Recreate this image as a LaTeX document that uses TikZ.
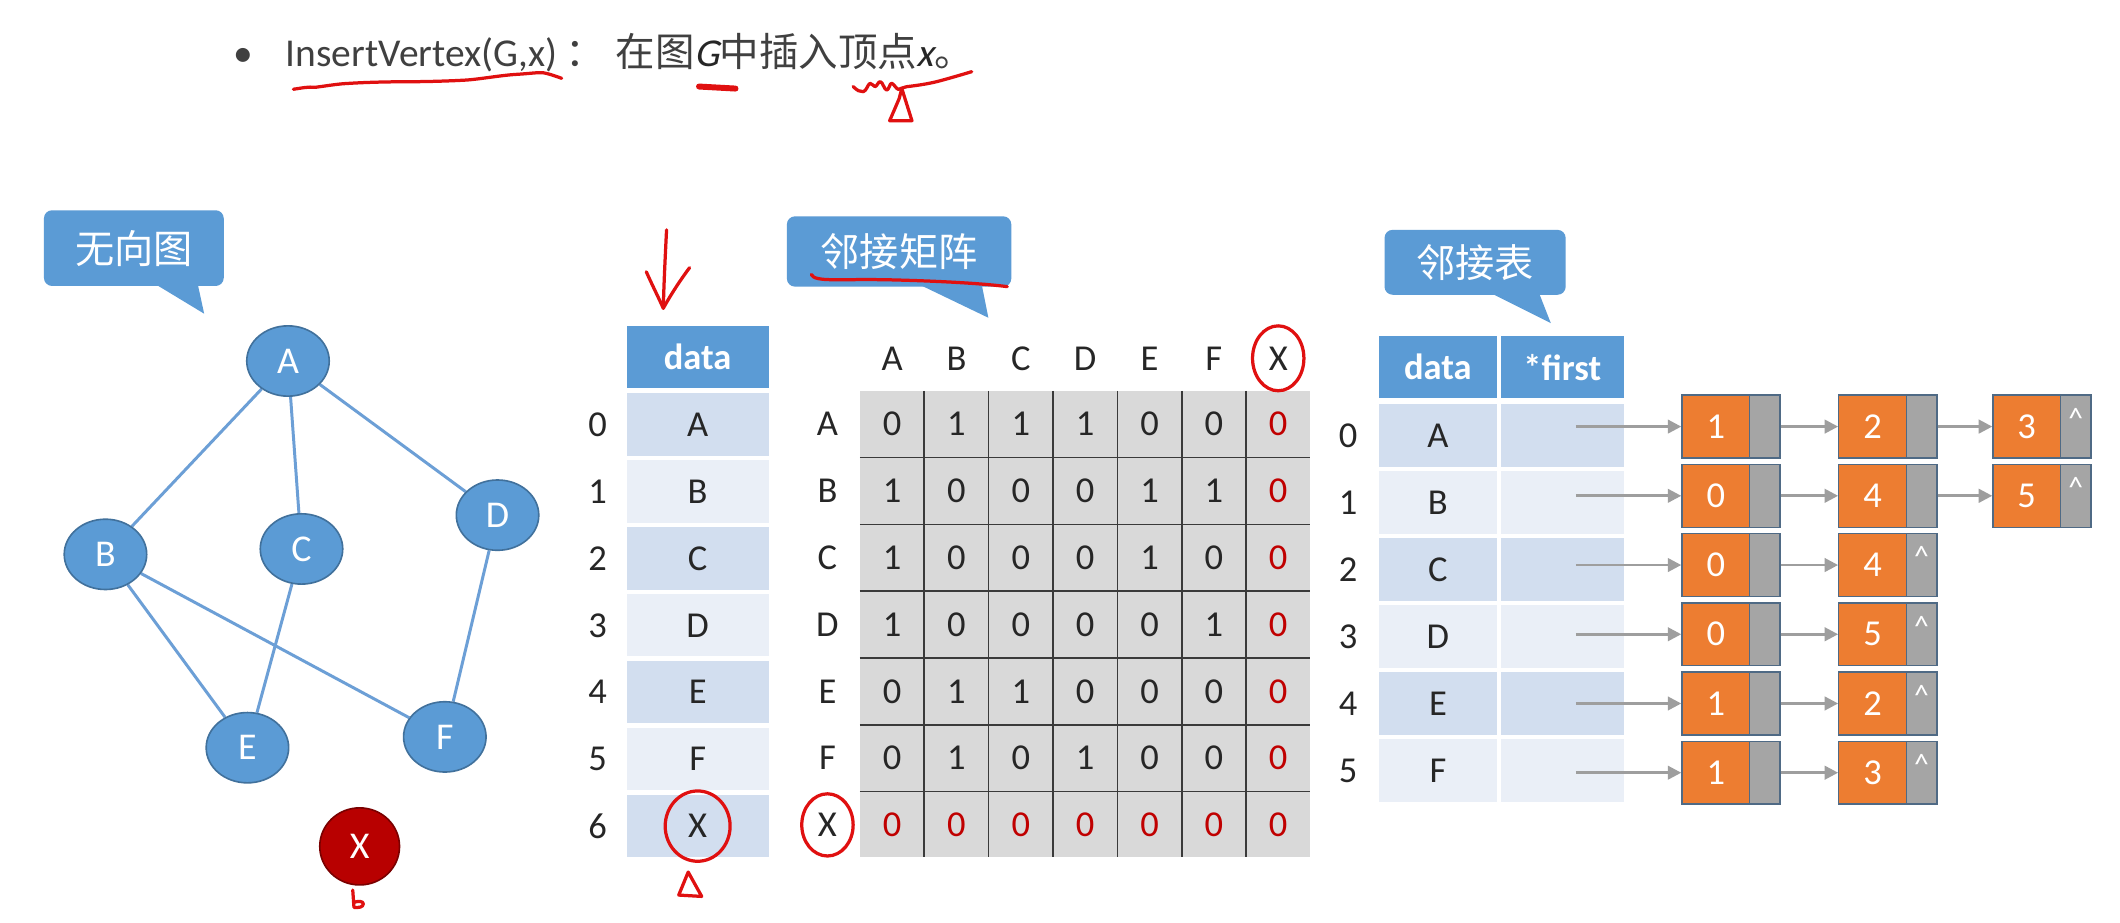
\documentclass[tikz,border=0pt]{standalone}
\usepackage{fontspec}
\setmainfont{Carlito}
\newfontfamily\cjk{Noto Sans CJK SC}
\newfontfamily\slantfont[FakeSlant=0.22]{Carlito}
\usetikzlibrary{shapes.geometric,arrows.meta,backgrounds}
\definecolor{nodeblue}{HTML}{5B9BD5}
\definecolor{nodeedge}{HTML}{41719C}
\definecolor{edgeblue}{HTML}{6C9FD6}
\definecolor{bubblue}{HTML}{5B9BD5}
\definecolor{rowdark}{HTML}{D2DEEF}
\definecolor{rowlight}{HTML}{EAEFF7}
\definecolor{cellgray}{HTML}{D9D9D9}
\definecolor{gridline}{HTML}{3A3A3A}
\definecolor{penred}{HTML}{E01010}
\definecolor{valred}{HTML}{C00000}
\definecolor{llorange}{HTML}{ED7D31}
\definecolor{llgray}{HTML}{A5A5A5}
\definecolor{llborder}{HTML}{4F6A85}
\definecolor{arrgray}{HTML}{9E9E9E}
\definecolor{txt}{HTML}{262626}
\definecolor{titletxt}{HTML}{404040}
\definecolor{xred}{HTML}{B80000}
\definecolor{xredge}{HTML}{7A0000}
\tikzset{
  gnode/.style={ellipse, draw=nodeedge, fill=nodeblue, line width=0.6pt, minimum width=30.5pt, minimum height=26pt, inner sep=0pt, text=white, font=\fontsize{14}{14}\selectfont},
  xnode/.style={gnode, fill=xred, draw=xredge, minimum width=29.5pt, minimum height=28.5pt},
  gedge/.style={edgeblue, line width=1.1pt},
  bubble/.style={fill=bubblue, rounded corners=3pt, text=white, inner sep=0pt, font=\cjk\fontsize{14.5}{14.5}\selectfont},
  hdr/.style={fill=nodeblue, text=white, inner sep=0pt, font=\bfseries\fontsize{13.5}{13.5}\selectfont},
  rowcell/.style={inner sep=0pt, text=txt, font=\fontsize{13.5}{14}\selectfont},
  lbl/.style={inner sep=0pt, text=txt, font=\fontsize{13.5}{14}\selectfont},
  titlefont/.style={anchor=base west, inner sep=0pt, text=titletxt, font=\fontsize{14.6}{15}\selectfont},
  pen/.style={penred, line width=1.2pt, line cap=round, line join=round},
  onode/.style={fill=llorange, draw=llborder, line width=0.5pt, minimum width=25pt, minimum height=23.25pt, inner sep=0pt, text=white, font=\fontsize{13.5}{14}\selectfont},
  gpart/.style={fill=llgray, draw=llborder, line width=0.5pt, minimum width=11.25pt, minimum height=23.25pt, inner sep=0pt},
  caret/.style={inner sep=0pt, text=white, font=\fontsize{11}{11}\selectfont},
  arr/.style={arrgray, line width=1pt, -{Triangle[length=5pt,width=5pt]}},
}
\begin{document}
\begin{tikzpicture}[x=0.5pt,y=-0.5pt]
\useasboundingbox (0,0) rectangle (1568,682);
\begin{scope}[on background layer]
\fill[white] (0,0) rectangle (1568,682);
\end{scope}

% ---------- title ----------
\node[titlefont] (bullet) at (172,49.5) {•};
\node[titlefont] (title1) at (211,49.5) {InsertVertex(G,x)\kern3pt\cjk{：}};
\node[titlefont] (title2) at (455,49.5)
  {\cjk{在图}{\slantfont\color{txt}G}\cjk{中插入顶点}{\slantfont\color{txt}x}\cjk{。}};
\draw[pen] (217,66) .. controls (224,65) and (228,64) .. (233,64.6) .. controls (245,63) and (250,62) .. (259,61.6) .. controls (275,60.6) and (295,60.4) .. (308,60.4) .. controls (325,60.2) and (338,59.6) .. (345,59.2) .. controls (355,58.5) and (372,55.5) .. (382,55) .. controls (392,54.4) and (398,53.4) .. (401.7,53.8) .. controls (406,54.5) and (410,56) .. (415.4,57.9);
\draw[penred, line width=2.2pt, line cap=round] (517,64) -- (544,65.5);
\draw[pen] (631,64) .. controls (634,67) and (636,68) .. (638.6,67.8) .. controls (641,67) and (642,62) .. (643.5,61.6) .. controls (645,61.5) and (646,64) .. (647.2,64.1) .. controls (648.5,64) and (649.5,60.4) .. (651,60.4) .. controls (653,60.6) and (654,66.6) .. (655.9,66.6) .. controls (657.5,66.4) and (658,61.6) .. (659.5,61.6) .. controls (661,61.8) and (663,66) .. (664.5,66.1) .. controls (666,66) and (668,64.3) .. (670.6,64.1) .. controls (680,63) and (686,62) .. (692.8,60.4) .. controls (702,58) and (712,55) .. (718.7,53);
\draw[pen] (667,65.5) -- (665,73) -- (658,89.3) -- (674.5,89.3) -- cycle;

% ---------- undirected graph ----------
\node[bubble, minimum width=66.5pt, minimum height=28pt] (bub1) at (99,183.5) {无向图};
\fill[bubblue] (113,209) -- (151,232) -- (146,209) -- cycle;

\node[gnode] (A) at (213,267) {A};
\node[gnode] (B) at (78,410) {B};
\node[gnode] (C) at (223,406) {C};
\node[gnode] (D) at (368,381) {D};
\node[gnode] (E) at (183,553) {E};
\node[gnode] (F) at (329,545) {F};
\node[xnode] (X) at (266,626) {X};
\begin{scope}[on background layer]
\draw[gedge] (A) -- (B);
\draw[gedge] (A) -- (C);
\draw[gedge] (A) -- (D);
\draw[gedge] (B) -- (E);
\draw[gedge] (B) -- (F);
\draw[gedge] (C) -- (E);
\draw[gedge] (D) -- (F);
\end{scope}
\draw[pen] (260.9,658.3) -- (261.8,671.1) .. controls (265,671.5) and (268.7,671) .. (268.7,668.5) .. controls (268.7,666.5) and (265,666.3) .. (262.4,667.2);

% ---------- vertex table ----------
\draw[pen] (493,170) .. controls (492,190) and (491,210) .. (490.6,228);
\draw[pen] (478,201) .. controls (482,210) and (487,220) .. (490.6,228) .. controls (496,218) and (504,206) .. (510,198);
\node[hdr, minimum width=52.5pt, minimum height=23pt] (dh) at (516,264) {data};
\foreach \l [count=\i from 0] in {A,B,C,D,E,F,X}{
  \pgfmathsetmacro\yy{314+\i*49.5}
  \ifodd\i \def\rc{rowlight}\else\def\rc{rowdark}\fi
  \node[rowcell, fill=\rc, minimum width=52.5pt, minimum height=23pt] (d-\i) at (516,\yy) {\l};
  \node[lbl] (di-\i) at (442,\yy) {\i};
}
\draw[pen] (d-6.center) ellipse [x radius=24, y radius=26];
\draw[pen] (509,645) -- (502,662) -- (519,663) -- cycle;

% ---------- adjacency matrix ----------
\node[bubble, minimum width=83pt, minimum height=26pt] (bub2) at (665,186) {邻接矩阵};
\fill[bubblue] (679,210) -- (731,235) -- (726,210) -- cycle;
\draw[pen] (600,203) .. controls (603,209) and (620,206) .. (660,207) .. controls (700,208) and (730,210) .. (745,212);

\node[fill=cellgray, minimum width=166.5pt, minimum height=172.5pt, inner sep=0pt] (mat) at (802.5,461.5) {};
\foreach \k in {1,...,6}{
  \draw[gridline, line width=0.6pt] ({636+\k*47.6},289) -- ({636+\k*47.6},634);
  \draw[gridline, line width=0.6pt] (636,{289+\k*49.4}) -- (969,{289+\k*49.4});
}
\foreach \l [count=\j from 0] in {A,B,C,D,E,F,X}{
  \node[lbl] (ch-\j) at ({659.8+\j*47.6},265) {\l};
  \node[lbl] (rl-\j) at (612,{313.7+\j*49.4}) {\l};
}
\foreach \row [count=\i from 0] in {{0,1,1,1,0,0,0},{1,0,0,0,1,1,0},{1,0,0,0,1,0,0},{1,0,0,0,0,1,0},{0,1,1,0,0,0,0},{0,1,0,1,0,0,0},{0,0,0,0,0,0,0}}{
  \foreach \v [count=\j from 0] in \row {
    \ifnum\i=6 \def\cc{valred}\else\ifnum\j=6 \def\cc{valred}\else\def\cc{txt}\fi\fi
    \node[lbl, text=\cc] (m-\i-\j) at ({659.8+\j*47.6},{313.7+\i*49.4}) {\v};
  }
}
\draw[pen] (ch-6.center) ellipse [x radius=19, y radius=24];
\draw[pen] (rl-6.center) ellipse [x radius=19, y radius=23];

% ---------- adjacency list ----------
\node[bubble, minimum width=67pt, minimum height=24pt] (bub3) at (1091,194) {邻接表};
\fill[bubblue] (1101,216) -- (1147,239) -- (1138,216) -- cycle;

\node[hdr, minimum width=43.5pt, minimum height=23pt] (ah1) at (1063.5,271.5) {data};
\node[hdr, minimum width=45.5pt, minimum height=23pt] (ah2) at (1155.5,271.5) {*first};
\foreach \l [count=\i from 0] in {A,B,C,D,E,F}{
  \pgfmathsetmacro\yy{322+\i*49.6}
  \ifodd\i \def\rc{rowlight}\else\def\rc{rowdark}\fi
  \node[rowcell, fill=\rc, minimum width=43.5pt, minimum height=23.5pt] (ad-\i) at (1063.5,\yy) {\l};
  \node[rowcell, fill=\rc, minimum width=45.5pt, minimum height=23.5pt] (af-\i) at (1155.5,\yy) {};
  \node[lbl] (ai-\i) at (997,\yy) {\i};
}
\foreach \i/\a/\b in {0/1/2,1/0/4,2/0/4,3/0/5,4/1/2,5/1/3}{
  \pgfmathsetmacro\yy{315.5+\i*51.2}
  \node[onode] (o-\i-1) at (1269,\yy) {\a};
  \node[gpart] (g-\i-1) at (1305.25,\yy) {};
  \node[onode] (o-\i-2) at (1385,\yy) {\b};
  \node[gpart] (g-\i-2) at (1421.25,\yy) {};
  \draw[arr] ([xshift=5pt]o-\i-1.west -| af-\i.center) -- (o-\i-1.west);
  \draw[arr] (g-\i-1.east) -- (o-\i-2.west);
}
\foreach \i/\c in {0/3,1/5}{
  \pgfmathsetmacro\yy{315.5+\i*51.2}
  \node[onode] (o-\i-3) at (1499,\yy) {\c};
  \node[gpart] (g-\i-3) at (1535.25,\yy) {};
  \draw[arr] (g-\i-2.east) -- (o-\i-3.west);
  \node[caret] (c-\i) at ([yshift=3pt]g-\i-3.center) {\textasciicircum};
}
\foreach \i in {2,3,4,5}{
  \node[caret] (c-\i) at ([yshift=3pt]g-\i-2.center) {\textasciicircum};
}
\end{tikzpicture}
\end{document}
